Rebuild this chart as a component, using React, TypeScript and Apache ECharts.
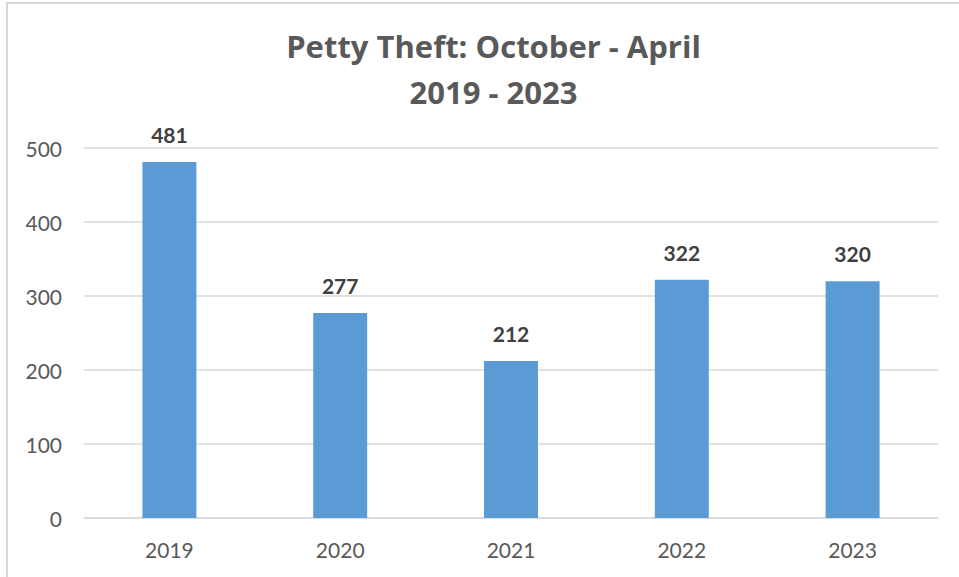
import React, { useEffect, useRef } from "react";
import * as echarts from "echarts";

const titleLines = ["Petty Theft: October - April", "2019 - 2023"];
const categories = ["2019", "2020", "2021", "2022", "2023"];
const values = [481, 277, 212, 322, 320];
const yTicks = { min: 0, max: 500, interval: 100 };

export default function App() {
  const ref = useRef<HTMLDivElement>(null);
  useEffect(() => {
    if (!ref.current) return;
    const chart = echarts.init(ref.current, null, { renderer: "svg" });
    const font = "Lato, 'Open Sans', sans-serif";
    chart.setOption({
      animation: false,
      backgroundColor: "#ffffff",
      textStyle: { fontFamily: font },
      title: {
        text: titleLines.join("\n"),
        left: 488.5,
        textAlign: "center",
        top: 18,
        textStyle: {
          fontFamily: "'Open Sans', sans-serif",
          fontSize: 31,
          fontWeight: "bold",
          color: "#595959",
          lineHeight: 46,
        },
      },
      graphic: [
        {
          type: "rect",
          shape: { x: 7, y: 3, width: 1000, height: 1000 },
          style: { fill: "none", stroke: "#d9d9d9", lineWidth: 2 },
          silent: true,
        },
      ],
      grid: { left: 84, right: 21, top: 148, bottom: 59, containLabel: false },
      xAxis: {
        type: "category",
        data: categories,
        axisLine: { lineStyle: { color: "#d9d9d9", width: 1.5 } },
        axisTick: { show: false },
        axisLabel: { color: "#595959", fontSize: 21, fontFamily: font, margin: 21 },
      },
      yAxis: {
        type: "value",
        min: yTicks.min,
        max: yTicks.max,
        interval: yTicks.interval,
        axisLine: { show: false },
        axisTick: { show: false },
        axisLabel: { color: "#595959", fontSize: 21, fontFamily: font, margin: 22 },
        splitLine: { lineStyle: { color: "#d9d9d9", width: 1.5 } },
      },
      series: [
        {
          type: "bar",
          data: values,
          barWidth: "31.6%",
          itemStyle: { color: "#5b9bd5" },
          label: {
            show: true,
            position: "top",
            distance: 17,
            color: "#404040",
            fontSize: 21,
            fontWeight: "bold",
            fontFamily: font,
          },
        },
      ],
    });
    return () => chart.dispose();
  }, []);
  return (
    <div
      ref={ref}
      style={{ position: "fixed", left: 0, top: 0, width: 959, height: 577 }}
    />
  );
}
